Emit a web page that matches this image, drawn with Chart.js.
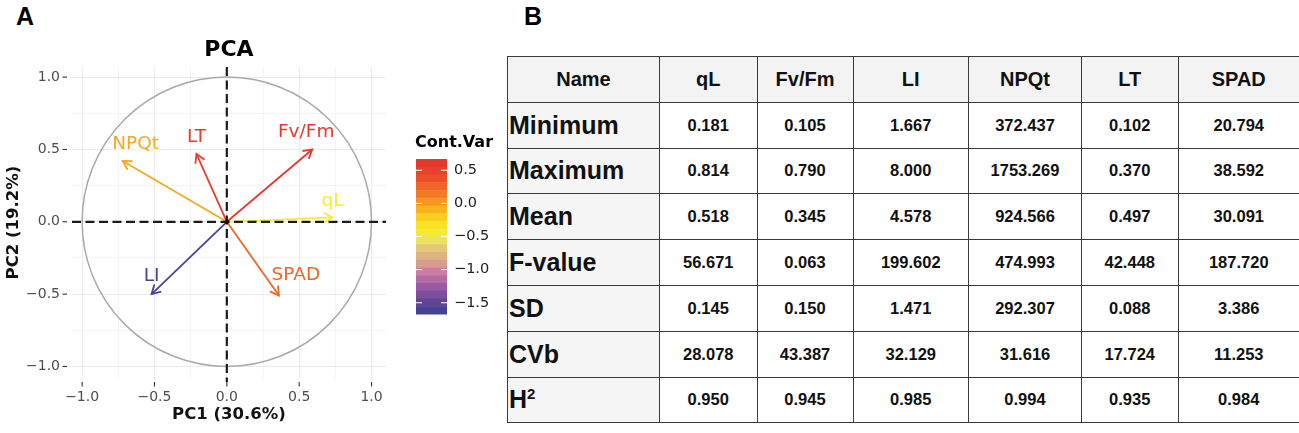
<!DOCTYPE html>
<html>
<head>
<meta charset="utf-8">
<script src="https://cdn.jsdelivr.net/npm/chart.js@4.4.1/dist/chart.umd.min.js"></script>
<style>
html, body { margin: 0; padding: 0; background: #fff; width: 1299px; height: 433px; overflow: hidden; }
#panelA { position: absolute; left: 0; top: 0; width: 500px; height: 433px; }
.tag { position: absolute; font: bold 25px "Liberation Sans", Arial, sans-serif; color: #000; }
#tbl { position: absolute; left: 507px; top: 56px; width: 792px; border-collapse: collapse; table-layout: fixed;
       font-family: "Liberation Sans", Arial, sans-serif; font-weight: bold; color: #111; }
#tbl td { border: 1.6px solid #3a3a3a; padding: 0; height: 44.8px; text-align: center; font-size: 16.5px; background: #fff; }
#tbl tr.head td { background: #f3f3f3; font-size: 20px; }
#tbl td.rowlab { background: #f5f5f5; text-align: left; font-size: 25px; padding-left: 1px; }
#tbl sup { font-size: 15px; }
</style>
</head>
<body>
<div class="tag" style="left:16px;top:2px">A</div>
<div class="tag" style="left:524px;top:2px">B</div>
<div id="panelA"><canvas id="pca"></canvas></div>
<table id="tbl"></table>
<script>
// variables of the PCA (same order as table columns)
const variables = ['qL', 'Fv/Fm', 'LI', 'NPQt', 'LT', 'SPAD']
const pc1 = [0.73, 0.59, -0.52, -0.72, -0.21, 0.36]
const pc2 = [0.03, 0.50, -0.50, 0.42, 0.47, -0.51]
const contVar = [-0.42, 0.6, -1.6, -0.05, 0.55, 0.25]
const colorbarTicks = [0.5, 0.0, -0.5, -1.0, -1.5]

// table B
const statNames = ['Minimum', 'Maximum', 'Mean', 'F-value', 'SD', 'CVb', 'H2']
const minimumVals = [0.181, 0.105, 1.667, 372.437, 0.102, 20.794]
const maximumVals = [0.814, 0.790, 8.000, 1753.269, 0.370, 38.592]
const meanVals = [0.518, 0.345, 4.578, 924.566, 0.497, 30.091]
const fVals = [56.671, 0.063, 199.602, 474.993, 42.448, 187.720]
const sdVals = [0.145, 0.150, 1.471, 292.307, 0.088, 3.386]
const cvbVals = [28.078, 43.387, 32.129, 31.616, 17.724, 11.253]
const h2Vals = [0.950, 0.945, 0.985, 0.994, 0.935, 0.984]

// colour scale of Cont.Var
const cbMin = -1.67, cbMax = 0.67
const palette = [
    [0.67, '#e5312e'], [0.40, '#eb4a2b'], [0.15, '#f27a25'], [-0.05, '#f7a81e'],
    [-0.25, '#fbd81a'], [-0.40, '#f9ec2a'], [-0.55, '#efe360'], [-0.70, '#e2c37b'],
    [-0.90, '#d9a08c'], [-1.05, '#c878a6'], [-1.25, '#9c5aa4'], [-1.45, '#6a4798'],
    [-1.67, '#3b3f8e']
]

const hexRgb = h => [1, 3, 5].map(i => parseInt(h.slice(i, i + 2), 16))
const colorFor = (v) => {
    for (let i = 0; i < palette.length - 1; i++) {
        const [v0, c0] = palette[i], [v1, c1] = palette[i + 1]
        if (v <= v0 && v >= v1) {
            const t = (v0 - v) / (v0 - v1)
            const a = hexRgb(c0), b = hexRgb(c1)
            return 'rgb(' + a.map((x, k) => Math.round(x + (b[k] - x) * t)).join(',') + ')'
        }
    }
    return v > palette[0][0] ? palette[0][1] : palette[palette.length - 1][1]
}

const isMajor = v => Math.abs(v * 2 - Math.round(v * 2)) < 1e-6
const fmt = v => isMajor(v) ? v.toFixed(1).replace('-', '\u2212') : ''

// label offsets in pixels from arrow tips
const labelShift = { 'qL': [0, -16], 'Fv/Fm': [-6, -17], 'LI': [0, -18], 'NPQt': [13, -17], 'LT': [0, -17], 'SPAD': [17, -20] }

const pcaPlugin = {
    id: 'pcaExtras',
    beforeDatasetsDraw(chart) {
        const { ctx, scales: { x, y } } = chart
        // correlation circle
        const cx = x.getPixelForValue(0), cy = y.getPixelForValue(0)
        const r = x.getPixelForValue(1) - cx
        ctx.save()
        ctx.strokeStyle = '#a9a9a9'
        ctx.lineWidth = 1.5
        ctx.beginPath()
        ctx.arc(cx, cy, r, 0, Math.PI * 2)
        ctx.stroke()
        ctx.restore()
    },
    afterDatasetsDraw(chart) {
        const { ctx, chartArea: a, scales: { x, y } } = chart
        const cx = x.getPixelForValue(0), cy = y.getPixelForValue(0)
        ctx.save()
        // arrow heads + labels
        chart.data.datasets.forEach((ds, i) => {
            const tx = x.getPixelForValue(pc1[i]), ty = y.getPixelForValue(pc2[i])
            const ang = Math.atan2(ty - cy, tx - cx)
            ctx.strokeStyle = ds.borderColor
            ctx.lineWidth = 1.8
            ctx.beginPath()
            ctx.moveTo(tx - 10 * Math.cos(ang - Math.PI / 6), ty - 10 * Math.sin(ang - Math.PI / 6))
            ctx.lineTo(tx, ty)
            ctx.lineTo(tx - 10 * Math.cos(ang + Math.PI / 6), ty - 10 * Math.sin(ang + Math.PI / 6))
            ctx.stroke()
            const sh = labelShift[variables[i]]
            ctx.fillStyle = ds.borderColor
            ctx.font = '18.5px "DejaVu Sans"'
            ctx.textAlign = 'center'
            ctx.textBaseline = 'middle'
            ctx.fillText(variables[i], tx + sh[0], ty + sh[1])
        })
        // dashed zero lines
        ctx.strokeStyle = '#1a1a1a'
        ctx.lineWidth = 2.2
        ctx.setLineDash([9, 4.5])
        ctx.beginPath()
        ctx.moveTo(a.left, cy); ctx.lineTo(a.right, cy)
        ctx.moveTo(cx, a.top); ctx.lineTo(cx, a.bottom + 4)
        ctx.stroke()
        ctx.setLineDash([])
        ctx.fillStyle = '#111'
        ctx.beginPath(); ctx.arc(cx, cy, 2.2, 0, Math.PI * 2); ctx.fill()
        ctx.restore()
    },
    afterDraw(chart) {
        const { ctx, chartArea: a, scales: { x, y } } = chart
        ctx.save()
        // axis tick marks
        ctx.strokeStyle = '#333'
        ctx.lineWidth = 1.1
        x.ticks.forEach(t => {
            if (!isMajor(t.value)) return
            const px = x.getPixelForValue(t.value)
            ctx.beginPath(); ctx.moveTo(px, a.bottom + 4); ctx.lineTo(px, a.bottom + 8.5); ctx.stroke()
        })
        y.ticks.forEach(t => {
            if (!isMajor(t.value)) return
            const py = y.getPixelForValue(t.value)
            ctx.beginPath(); ctx.moveTo(a.left - 9.5, py); ctx.lineTo(a.left - 5, py); ctx.stroke()
        })
        // colour bar legend
        const bx = 416, bw = 31, btop = 159, bbot = 314
        const vpx = v => btop + (cbMax - v) / (cbMax - cbMin) * (bbot - btop)
        const nbin = 20
        for (let k = 0; k < nbin; k++) {
            const v0 = cbMax - (cbMax - cbMin) * k / nbin
            const v1 = cbMax - (cbMax - cbMin) * (k + 1) / nbin
            ctx.fillStyle = colorFor((v0 + v1) / 2)
            ctx.fillRect(bx, vpx(v0), bw, vpx(v1) - vpx(v0) + 0.5)
        }
        ctx.strokeStyle = '#fff'
        ctx.lineWidth = 1
        ctx.fillStyle = '#222'
        ctx.font = '14.5px "DejaVu Sans"'
        ctx.textAlign = 'left'
        ctx.textBaseline = 'middle'
        colorbarTicks.forEach(v => {
            const py = vpx(v)
            ctx.beginPath()
            ctx.moveTo(bx, py); ctx.lineTo(bx + 6, py)
            ctx.moveTo(bx + bw - 6, py); ctx.lineTo(bx + bw, py)
            ctx.stroke()
            ctx.fillText(v.toFixed(1).replace('-', '\u2212'), bx + bw + 7, py)
        })
        ctx.fillStyle = '#000'
        ctx.font = 'bold 16px "DejaVu Sans"'
        ctx.fillText('Cont.Var', bx - 1, 143)
        ctx.restore()
    }
}

const tickFont = { family: 'DejaVu Sans', size: 14 }
const titleFont = { family: 'DejaVu Sans', size: 16.5, weight: 'bold' }

new Chart(document.getElementById('pca'), {
    type: 'scatter',
    data: {
        datasets: variables.map((v, i) => ({
            label: v,
            data: [{ x: 0, y: 0 }, { x: pc1[i], y: pc2[i] }],
            showLine: true,
            borderColor: colorFor(contVar[i]),
            borderWidth: 1.8,
            pointRadius: 0
        }))
    },
    options: {
        responsive: true,
        maintainAspectRatio: false,
        animation: false,
        layout: { padding: { left: 0, right: 114, top: 0, bottom: 0 } },
        plugins: {
            legend: { display: false },
            tooltip: { enabled: false },
            title: {
                display: true, text: 'PCA', fullSize: false, color: '#000',
                font: { family: 'DejaVu Sans', size: 22, weight: 'bold' },
                padding: { top: 36.8, bottom: 3.8 }
            }
        },
        scales: {
            x: {
                type: 'linear', min: -1.07, max: 1.1,
                afterFit: s => { s.height = 55 },
                border: { display: false },
                grid: { drawTicks: false, color: c => isMajor(c.tick.value) ? '#ebebeb' : '#f4f4f4', lineWidth: 1 },
                ticks: { stepSize: 0.25, includeBounds: false, autoSkip: false, maxRotation: 0, padding: 11, font: tickFont, color: '#4d4d4d', callback: fmt },
                title: { display: true, text: 'PC1 (30.6%)', color: '#111', font: titleFont, padding: { top: 0, bottom: 8 } }
            },
            y: {
                type: 'linear', min: -1.08, max: 1.07,
                afterFit: s => { s.width = 72 },
                border: { display: false },
                grid: { drawTicks: false, color: c => isMajor(c.tick.value) ? '#ebebeb' : '#f4f4f4', lineWidth: 1 },
                ticks: { stepSize: 0.25, includeBounds: false, autoSkip: false, padding: 12, font: tickFont, color: '#4d4d4d', callback: fmt },
                title: { display: true, text: 'PC2 (19.2%)', color: '#111', font: titleFont, padding: { top: 4, bottom: 0 } }
            }
        }
    },
    plugins: [pcaPlugin]
})

// table B
const rowsData = [minimumVals, maximumVals, meanVals, fVals, sdVals, cvbVals, h2Vals]
const colWidths = [152, 97.5, 96, 115.5, 113, 96.5, 121.5]
const tbl = document.getElementById('tbl')
let html = '<colgroup>' + colWidths.map(w => '<col style="width:' + w + 'px">').join('') + '</colgroup>'
html += '<tr class="head"><td>Name</td>' + variables.map(v => '<td>' + v + '</td>').join('') + '</tr>'
statNames.forEach((name, r) => {
    const lab = name === 'H2' ? 'H<sup>2</sup>' : name
    html += '<tr><td class="rowlab">' + lab + '</td>' + rowsData[r].map(v => '<td>' + v.toFixed(3) + '</td>').join('') + '</tr>'
})
tbl.innerHTML = html
</script>
</body>
</html>
